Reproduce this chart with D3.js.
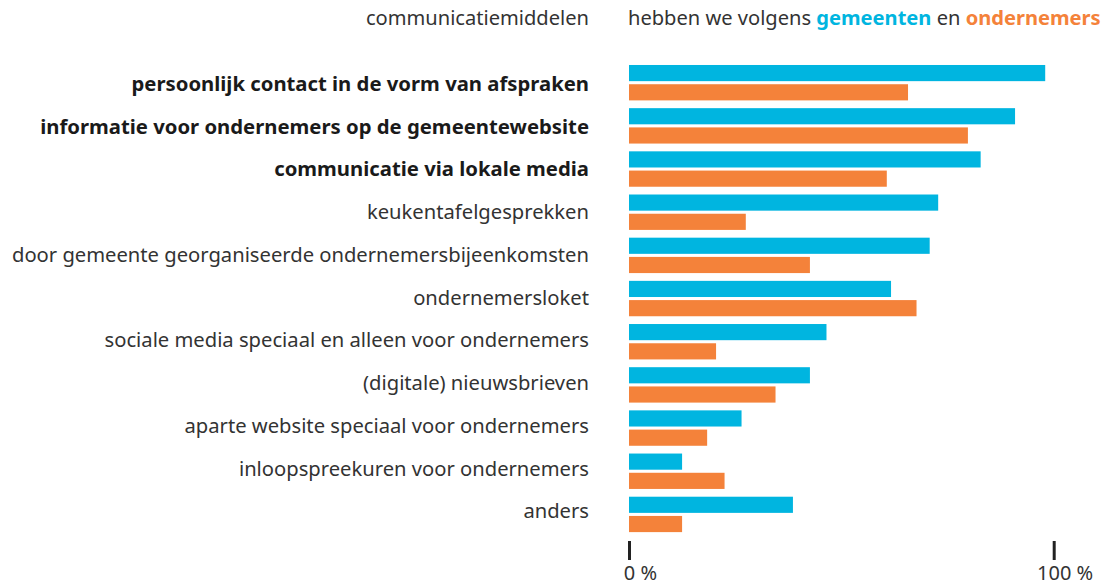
<!DOCTYPE html>
<html>
<head>
<meta charset="utf-8">
<script src="https://cdn.jsdelivr.net/npm/d3@7"></script>
<style>
  html, body { margin: 0; padding: 0; background: #fff; }
  svg { display: block; font-family: "Noto Sans", "Open Sans", sans-serif; }
</style>
</head>
<body>
<svg id="chart" width="1117" height="586"></svg>
<script>
const categories = [
  "persoonlijk contact in de vorm van afspraken",
  "informatie voor ondernemers op de gemeentewebsite",
  "communicatie via lokale media",
  "keukentafelgesprekken",
  "door gemeente georganiseerde ondernemersbijeenkomsten",
  "ondernemersloket",
  "sociale media speciaal en alleen voor ondernemers",
  "(digitale) nieuwsbrieven",
  "aparte website speciaal voor ondernemers",
  "inloopspreekuren voor ondernemers",
  "anders"
];
const boldCategories = categories.slice(0, 3);
const seriesNames = ["gemeenten", "ondernemers"];
const gemeenten   = [98, 90.9, 82.8, 72.8, 70.8, 61.7, 46.5, 42.6, 26.5, 12.5, 38.6];
const ondernemers = [65.7, 79.8, 60.7, 27.5, 42.6, 67.7, 20.5, 34.5, 18.4, 22.5, 12.5];
const tickValues = [0, 100];
const tickUnit = " %";
const headerLeft = "communicatiemiddelen";
const headerRight = ["hebben we volgens ", "gemeenten", " en ", "ondernemers"];

const colors = { gemeenten: "#00b5e0", ondernemers: "#f4823a" };

const svg = d3.select("#chart");

const x = d3.scaleLinear().domain([0, 100]).range([629, 1053.7]);
const y = d3.scaleBand().domain(categories).range([61.1, 536]).paddingInner(0.18).paddingOuter(0.09);
const sub = d3.scaleBand().domain(seriesNames).range([0, y.bandwidth()]).paddingInner(0.16);
const labelY = d3.scalePoint().domain(categories).range([91, 518.3]);

const rows = categories.map((c, i) => ({ cat: c, gemeenten: gemeenten[i], ondernemers: ondernemers[i] }));

// header
svg.append("text")
  .attr("x", 589).attr("y", 25)
  .attr("text-anchor", "end")
  .attr("font-size", 20.1).attr("font-weight", 400)
  .attr("fill", "#333")
  .text(headerLeft);

const hr = svg.append("text")
  .attr("x", 628).attr("y", 25)
  .attr("font-size", 20.1).attr("font-weight", 400)
  .attr("fill", "#333");
headerRight.forEach(part => {
  const t = hr.append("tspan").text(part);
  if (part === "gemeenten" || part === "ondernemers") {
    t.attr("font-weight", 700).attr("fill", colors[part]);
  }
});

// labels
svg.append("g").selectAll("text")
  .data(categories)
  .join("text")
  .attr("x", 589)
  .attr("y", d => labelY(d))
  .attr("text-anchor", "end")
  .attr("font-size", d => boldCategories.includes(d) ? 20.3 : 20.2)
  .attr("font-weight", d => boldCategories.includes(d) ? 700 : 400)
  .attr("fill", d => boldCategories.includes(d) ? "#1a1a1a" : "#333")
  .text(d => d);

// bars
const groups = svg.append("g").selectAll("g")
  .data(rows)
  .join("g")
  .attr("transform", d => `translate(0,${y(d.cat)})`);

groups.selectAll("rect")
  .data(d => seriesNames.map(s => ({ s, v: d[s] })))
  .join("rect")
  .attr("x", x(0))
  .attr("y", d => sub(d.s))
  .attr("width", d => x(d.v) - x(0))
  .attr("height", sub.bandwidth())
  .attr("fill", d => colors[d.s]);

// axis
const axis = svg.append("g")
  .attr("transform", "translate(0,541)")
  .call(d3.axisBottom(x).tickValues(tickValues).tickSize(19).tickFormat(d => d));
axis.select(".domain").remove();
axis.selectAll(".tick line").attr("stroke", "#222").attr("stroke-width", 3);
axis.selectAll(".tick text").each(function(d) {
  const t = d3.select(this);
  t.text(null).attr("fill", "#333").attr("font-size", 20).attr("font-family", "'Noto Sans', sans-serif")
    .attr("dy", null).attr("y", 39).attr("text-anchor", "start");
  const num = t.append("tspan").text(d);
  t.append("tspan").text(tickUnit);
  const w = num.node().getComputedTextLength();
  t.attr("x", -w / 2);
});
</script>
</body>
</html>
